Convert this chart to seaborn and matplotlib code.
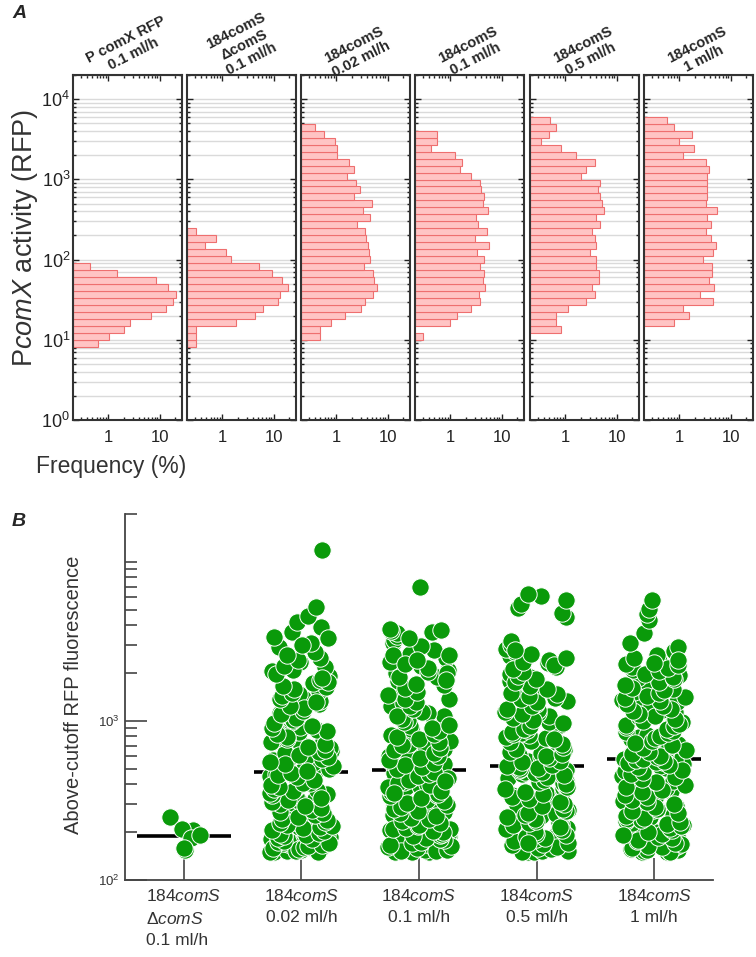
import numpy as np
import pandas as pd
import seaborn as sns
import matplotlib.pyplot as plt
from matplotlib.ticker import LogLocator, FixedLocator, FixedFormatter, NullFormatter

# ---------------- panel A: PcomX activity histograms ----------------
# frequency (%) per log10 bin, listed bottom-up, starting at bin index hist_first_bin
hist_titles = ["P comX RFP\n0.1 ml/h", "184comS\n\u0394comS\n0.1 ml/h", "184comS\n0.02 ml/h",
               "184comS\n0.1 ml/h", "184comS\n0.5 ml/h", "184comS\n1 ml/h"]
hist_first_bin = [0, 0, 1, 1, 2, 3]
freq_pcomx = [0.65, 1.06, 2.06, 2.7, 6.9, 13, 18, 21, 14.4, 8.3, 1.47, 0.44]
freq_dcoms = [0.31, 0.31, 0.31, 1.9, 4.4, 6.2, 12, 13.2, 18.8, 14.4, 9.2, 5.2, 1.47, 1.18, 0.46, 0.75, 0.31]
freq_002 = [0.5, 0.5, 0.79, 1.48, 3.05, 3.65, 5.1, 6.3, 5.5, 5.1, 3.5, 4.58, 4.37, 4.24, 3.8, 3.65,
            2.6, 4.58, 3.28, 4.9, 2.19, 2.87, 2.39, 1.64, 2.19, 1.82, 1.06, 1.06, 0.97, 0.58, 0.39]
freq_01 = [0.30, 0, 0.99, 1.39, 2.5, 3.8, 3.7, 4.8, 4.37, 4.5, 3.8, 4.58, 3.28, 5.7, 3.0, 5.1, 3.54,
           3.2, 5.4, 4.37, 4.6, 4.0, 3.8, 2.5, 1.55, 1.67, 1.27, 0.43, 0.56, 0.56]
freq_05 = [0.83, 0.68, 0.68, 1.16, 2.6, 3.85, 3.4, 4.6, 4.6, 4.05, 4.05, 3.1, 4.0, 3.8, 3.4, 4.85,
           4.05, 5.6, 5.3, 4.85, 4.3, 4.7, 2.0, 2.6, 3.76, 1.66, 0.83, 0.34, 0.50, 0.68, 0.51]
freq_1 = [0.80, 1.57, 1.18, 4.58, 2.5, 4.7, 3.87, 4.37, 4.37, 2.9, 4.58, 5.3, 4.18, 3.33, 4.18, 3.49,
          5.5, 3.33, 3.49, 3.49, 3.49, 3.49, 3.87, 3.33, 1.18, 1.94, 1.0, 1.77, 0.80, 0.59]
hist_freqs = [freq_pcomx, freq_dcoms, freq_002, freq_01, freq_05, freq_1]
bin0_log = 0.91
bin_log_width = 0.087

# ---------------- panel B: above-cutoff RFP fluorescence ----------------
b_keys = ["dcoms", "0.02", "0.1", "0.5", "1"]
b_labels = ["184$\\it{comS}$\n\u0394$\\it{comS}$\n0.1 ml/h", "184$\\it{comS}$\n0.02 ml/h",
            "184$\\it{comS}$\n0.1 ml/h", "184$\\it{comS}$\n0.5 ml/h", "184$\\it{comS}$\n1 ml/h"]
rfp_dcoms = [250, 205, 210, 185, 192, 155, 160]
rfp_002 = [150, 152, 155, 158, 160, 162, 165, 168, 170, 172, 175, 178, 180, 183, 186, 190, 193, 196,
           200, 204, 208, 212, 216, 220, 225, 230, 235, 240, 246, 252, 258, 265, 272, 280, 288, 296,
           305, 315, 325, 335, 345, 356, 368, 380, 392, 405, 420, 435, 450, 465,
           480, 495, 510, 528, 545, 565, 585, 605, 628, 650, 675, 700, 725, 752, 780, 810, 850, 880,
           915, 950, 990, 1030, 1075, 1120, 1170, 1220, 1280, 1340, 1400, 1470, 1550, 1630, 1720,
           1820, 1930, 2050, 2180, 2260, 2350, 2500, 2700, 2900, 3100, 3350, 3600, 3900, 4200, 4600,
           5200, 11900,
           150, 151, 153, 156, 159, 161, 164, 167, 171, 174, 177, 181, 184, 188, 191, 195, 198, 202,
           206, 211, 214, 218, 223, 228, 233, 238, 243, 249, 255, 262, 268, 276, 284, 292, 300, 310,
           320, 330, 340, 352, 362, 374, 386, 398, 410, 428, 442, 458, 472, 488,
           500, 518, 536, 555, 575, 595, 615, 640, 660, 688, 712, 738, 765, 795, 830, 865, 900, 935,
           970, 1010, 1050, 1100, 1150, 1200, 1250, 1310, 1370, 1430, 1500, 1580, 1660, 1760, 1870,
           1980, 2100, 2230, 2400, 2600, 3000, 3300]
rfp_01 = [150, 151, 154, 157, 159, 163, 166, 169, 172, 176, 179, 182, 186, 189, 193, 197, 201, 205,
          210, 215, 220, 226, 232, 238, 244, 251, 258, 266, 274, 282, 291, 300, 310, 320, 331, 342,
          354, 366, 379, 383, 392, 400, 415, 430, 445, 455, 462, 470, 478, 485,
          495, 505, 520, 535, 550, 560, 580, 600, 620, 645, 670, 695, 720, 750, 780, 815, 850, 890,
          930, 975, 1020, 1070, 1120, 1180, 1240, 1300, 1370, 1440, 1520, 1600, 1690, 1780, 1880,
          1990, 2100, 2220, 2350, 2480, 2620, 2780, 2950, 3100, 3250, 3400, 3550, 3700, 3800, 2000,
          2600, 7000,
          150, 152, 153, 155, 158, 161, 164, 167, 170, 174, 178, 181, 185, 188, 192, 196, 200, 204,
          209, 213, 218, 223, 229, 235, 241, 247, 254, 262, 270, 278, 286, 295, 305, 315, 326, 337,
          348, 360, 372, 386, 398, 410, 424, 438, 452, 466, 480, 350, 365, 420,
          500, 512, 528, 545, 565, 585, 605, 630, 655, 680, 708, 735, 765, 795, 830, 870, 905, 945,
          985, 1030, 1080, 1130, 1190, 1250, 1310, 1380, 1450, 1530, 1610, 1700, 1800, 1900, 2020,
          2150, 2280, 2420, 2580, 3300, 3600, 3750]
rfp_05 = [150, 152, 155, 157, 160, 163, 167, 170, 174, 178, 182, 185, 189, 193, 198, 203, 208, 213,
          219, 225, 231, 238, 245, 252, 260, 268, 277, 286, 296, 306, 317, 328, 340, 352, 365, 378,
          392, 406, 420, 435, 450, 462, 475, 485, 495, 503, 510, 515, 180, 190,
          525, 540, 556, 572, 590, 610, 630, 652, 675, 700, 725, 752, 780, 810, 842, 875, 910, 948,
          988, 1030, 1075, 1120, 1170, 1225, 1280, 1340, 1400, 1470, 1540, 1620, 1700, 1790, 1880,
          1980, 2080, 2190, 2300, 2420, 2550, 2700, 2850, 3000, 3200, 4500, 4800, 5100, 5400, 5750,
          6100, 6250,
          150, 151, 153, 156, 158, 161, 165, 168, 172, 176, 180, 184, 187, 191, 196, 200, 205, 210,
          216, 222, 228, 234, 241, 248, 256, 264, 272, 281, 291, 301, 311, 322, 334, 346, 358, 371,
          385, 399, 413, 428, 443, 457, 470, 480, 490, 498, 505, 512, 518, 170,
          530, 548, 564, 581, 600, 620, 641, 663, 687, 712, 738, 766, 795, 826, 858, 892, 930, 968,
          1010, 1050, 1098, 1145, 1195, 1250, 1310, 1370, 1435, 1505, 1580, 1660, 1745, 1835, 1930,
          2030, 2135, 2245, 2360, 2480, 2620, 2780]
rfp_1 = [150, 152, 154, 157, 160, 163, 166, 170, 173, 177, 181, 185, 190, 194, 199, 204, 210, 216,
         222, 228, 235, 242, 250, 258, 266, 275, 284, 294, 304, 315, 326, 338, 350, 363, 377, 391,
         406, 421, 437, 453, 470, 487, 505, 522, 538, 550, 558, 565, 570, 572,
         580, 595, 612, 630, 650, 670, 692, 715, 740, 765, 792, 820, 850, 880, 912, 945, 980, 1015,
         1052, 1090, 1130, 1170, 1215, 1260, 1310, 1360, 1415, 1470, 1530, 1590, 1655, 1720, 1790,
         1865, 1940, 2020, 2100, 2190, 2280, 2380, 2480, 2600, 2750, 2900, 3100, 3550, 4300, 4700,
         5050, 5750,
         150, 151, 153, 155, 158, 161, 164, 168, 171, 175, 179, 183, 187, 192, 196, 201, 207, 213,
         219, 225, 232, 239, 246, 254, 262, 270, 279, 289, 299, 309, 320, 332, 344, 356, 370, 384,
         398, 413, 429, 445, 461, 478, 495, 512, 528, 545, 555, 562, 568, 574,
         590, 605, 620, 640, 660, 680, 702, 727, 752, 778, 806, 835, 865, 896, 928, 962, 998, 1035,
         1072, 1110, 1150, 1192, 1238, 1285, 1335, 1388, 1442, 1500, 1560, 1622, 1688, 1755, 1828,
         1902, 1980, 2060, 2145, 2235, 2330, 2430]
b_values = [rfp_dcoms, rfp_002, rfp_01, rfp_05, rfp_1]
b_medians = [190, 475, 490, 520, 575]

# ---------------- style ----------------
sns.set_theme(style="ticks")
plt.rcParams["font.family"] = ["Liberation Sans", "DejaVu Sans"]
plt.rcParams["mathtext.fontset"] = "custom"
plt.rcParams["mathtext.rm"] = "Liberation Sans"
plt.rcParams["mathtext.it"] = "Liberation Sans:italic"
plt.rcParams["mathtext.bf"] = "Liberation Sans:bold"

W, H = 756, 957
fig = plt.figure(figsize=(W / 100, H / 100), dpi=100)
fig.patch.set_facecolor("white")

xmin, xmax = 0.21, 27
panel_lefts = [73, 187, 301, 415, 530, 644]
for i, (title, k0, freqs) in enumerate(zip(hist_titles, hist_first_bin, hist_freqs)):
    ax = fig.add_axes([panel_lefts[i] / W, 1 - 420 / H, 109 / W, 345 / H])
    ax.set_xscale("log")
    ax.set_yscale("log")
    f = np.asarray(freqs, dtype=float)
    lo = 10 ** (bin0_log + bin_log_width * (k0 + np.arange(len(f))))
    hi = lo * 10 ** bin_log_width
    keep = f > 0
    ax.barh(lo[keep], f[keep] - xmin, height=(hi - lo)[keep], left=xmin, align="edge",
            color="#ffc4c4", edgecolor="#ee6f6f", linewidth=0.8, zorder=2)
    ax.set_xlim(xmin, xmax)
    ax.set_ylim(1, 2e4)
    ax.grid(True, which="both", axis="y", color="#dadada", lw=1.0, zorder=0)
    ax.grid(False, axis="x")
    ax.set_axisbelow(True)
    ax.yaxis.set_major_locator(FixedLocator([1, 10, 100, 1000, 10000]))
    ax.yaxis.set_minor_locator(LogLocator(base=10, subs=np.arange(2, 10), numticks=20))
    ax.yaxis.set_minor_formatter(NullFormatter())
    ax.xaxis.set_major_locator(FixedLocator([1, 10]))
    ax.xaxis.set_major_formatter(FixedFormatter(["1", "10"]))
    ax.xaxis.set_minor_locator(LogLocator(base=10, subs=np.arange(2, 10), numticks=20))
    ax.xaxis.set_minor_formatter(NullFormatter())
    ax.tick_params(which="both", direction="in", top=True, right=True, left=True, bottom=True,
                   color="#222222", width=1.0)
    ax.tick_params(which="major", length=4.5)
    ax.tick_params(which="minor", length=2.5)
    ax.tick_params(axis="x", labelsize=12, pad=7, labelcolor="#222222")
    if i == 0:
        ax.yaxis.set_major_formatter(FixedFormatter(["$10^{0}$", "$10^{1}$", "$10^{2}$",
                                                     "$10^{3}$", "$10^{4}$"]))
        ax.tick_params(axis="y", labelsize=13, pad=2, labelcolor="#222222")
    else:
        ax.tick_params(axis="y", labelleft=False)
    for s in ax.spines.values():
        s.set_color("#333333")
        s.set_linewidth(1.5)
    ax.text(0.52, 0.985, title, transform=ax.transAxes, ha="center", va="bottom", rotation=27,
            fontsize=10.5, fontweight="bold", multialignment="center", linespacing=1.2)

fig.text(25 / W, 1 - 238 / H, "P$\\it{comX}$ activity (RFP)", rotation=90, ha="center",
         va="center", fontsize=19.5, color="#333333")
fig.text(36 / W, 1 - 467 / H, "Frequency (%)", ha="left", va="center", fontsize=16.5,
         color="#333333")
fig.text(12 / W, 1 - 14 / H, "A", ha="left", va="center", fontsize=14, fontweight="bold",
         style="italic")
fig.text(12 / W, 1 - 522 / H, "B", ha="left", va="center", fontsize=14, fontweight="bold",
         style="italic")

# ---------------- panel B ----------------
df = pd.DataFrame({
    "strain": np.repeat(b_keys, [len(v) for v in b_values]),
    "rfp": np.concatenate([np.asarray(v, dtype=float) for v in b_values]),
})
axb = fig.add_axes([125 / W, 1 - 880 / H, 588 / W, 366 / H])
np.random.seed(7)
first = df["strain"] == b_keys[0]
sns.stripplot(data=df[first], x="strain", y="rfp", order=b_keys, jitter=0.14, size=12.5,
              color="#0a9a0a", edgecolor="white", linewidth=0.7, log_scale=True, ax=axb, zorder=3)
sns.stripplot(data=df[~first], x="strain", y="rfp", order=b_keys, jitter=0.27, size=12.5,
              color="#0a9a0a", edgecolor="white", linewidth=0.7, ax=axb, zorder=3)
for i, m in enumerate(b_medians):
    axb.plot([i - 0.4, i + 0.4], [m, m], color="black", lw=2.6, zorder=1, solid_capstyle="butt")

axb.set_ylim(100, 20000)
axb.set_xlim(-0.5, 4.5)
axb.set_xlabel("")
axb.set_ylabel("")
axb.yaxis.set_major_locator(FixedLocator([100, 1000]))
axb.yaxis.set_major_formatter(FixedFormatter(["$10^{2}$", "$10^{3}$"]))
axb.yaxis.set_minor_locator(FixedLocator([200, 300, 400, 500, 600, 700, 800, 900, 2000, 3000,
                                          4000, 5000, 6000, 7000, 8000, 9000, 10000, 20000]))
axb.yaxis.set_minor_formatter(NullFormatter())
axb.set_xticks(range(len(b_keys)))
axb.set_xticklabels(b_labels, linespacing=1.5)
for j, lab in enumerate(axb.get_xticklabels()):
    lab.set_multialignment("left" if j == 0 else "center")
axb.tick_params(axis="y", which="major", direction="in", length=16, width=1.2, labelsize=9.5,
                pad=4, color="#444444", labelcolor="#333333")
axb.tick_params(axis="y", which="minor", direction="in", length=8.5, width=1.2, color="#444444")
axb.tick_params(axis="x", which="major", direction="in", length=16, width=1.2, labelsize=12.5,
                pad=6, color="#444444", labelcolor="#333333")
axb.tick_params(axis="x", which="minor", bottom=False)
sns.despine(ax=axb)
for s in ["left", "bottom"]:
    axb.spines[s].set_color("#444444")
    axb.spines[s].set_linewidth(1.3)
fig.text(74 / W, 1 - 695 / H, "Above-cutoff RFP fluorescence", rotation=90, ha="center",
         va="center", fontsize=14.5, color="#333333")

fig.savefig("out.png", dpi=100, facecolor="white")
